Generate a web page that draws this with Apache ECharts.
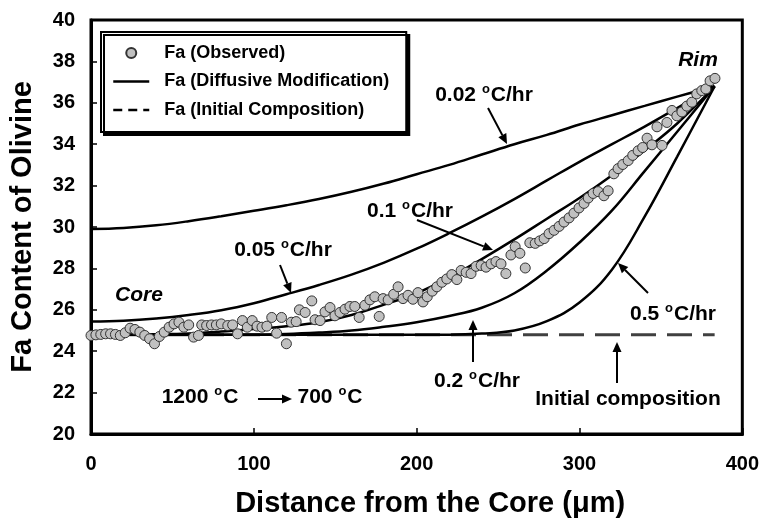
<!DOCTYPE html>
<html>
<head>
<meta charset="utf-8">
<script src="https://cdn.jsdelivr.net/npm/echarts@6/dist/echarts.min.js"></script>
<style>
  html, body { margin: 0; padding: 0; background: #fff; }
  #chart { width: 762px; height: 523px; }
</style>
</head>
<body>
<div id="chart"></div>
<script>
// observed Fa profile (distance from core in um, Fa content)
const obsX = [0, 3, 6, 9, 12, 15, 18, 21, 24, 27, 30, 33, 36, 39, 42, 45, 48, 51, 54, 57, 60, 63, 66, 68, 71, 74, 77, 80, 84, 87,
  90, 93, 96, 99, 102, 105, 108, 111, 114, 117, 120, 123, 126, 128,
  131.5, 135.6, 137.6, 140.7, 143.7, 146.8, 149.8, 152.9, 156, 159, 162, 164.7, 168.2, 171.3, 174.3, 177, 179.4, 182.5,
  185.9, 188.6, 191.6, 194.7, 197.7, 200.8, 203.9, 206.5, 209.6, 212.4, 215.5, 218.5, 221.6, 224.7, 227.3, 230.4,
  233.4, 236.5, 239.6, 242.6, 245.7, 248.7, 251.8, 254.8,
  257.9, 260.5, 263.4, 266.7, 269.5, 272.8, 275.6, 278.3, 281.3, 284.4, 287.5, 290.5, 293.6, 296.6, 299.7, 302.8,
  305.4, 308.4, 311.5, 315, 317.6, 321.1, 323.7, 326.6, 329.9, 332.7, 336, 338.8, 341.5, 344.5, 347.6, 350.7,
  353.7, 356.8, 359.8, 362.9, 365.9, 369, 372, 375.1, 377.6, 380.2, 383.2];
const obsY = [24.76, 24.79, 24.81, 24.84, 24.84, 24.81, 24.76, 24.89, 25.11, 25.05, 24.92, 24.76, 24.6, 24.36, 24.71, 24.92,
  25.16, 25.32, 25.4, 25.16, 25.27, 24.68, 24.76, 25.27, 25.24, 25.27, 25.27, 25.32, 25.24, 25.27,
  24.84, 25.48, 25.16, 25.48, 25.21, 25.16, 25.21, 25.63, 24.87, 25.63, 24.36, 25.4, 25.43, 26.0,
  25.87, 26.43, 25.52, 25.48, 25.9, 26.11, 25.71, 25.87, 26.03, 26.16, 26.16, 25.63, 26.22, 26.48, 26.63, 25.68, 26.54, 26.48,
  26.75, 27.11, 26.54, 26.7, 26.51, 26.83, 26.38, 26.63, 26.9, 27.11, 27.33, 27.49, 27.7, 27.46, 27.9, 27.81,
  27.75, 28.1, 28.14, 28.06, 28.22, 28.33, 28.22, 27.75,
  28.65, 29.05, 28.73, 28.02, 29.24, 29.21, 29.33, 29.44, 29.68, 29.84, 30.03, 30.24, 30.44, 30.67, 30.92, 31.14,
  31.4, 31.62, 31.71, 31.51, 31.75, 32.57, 32.82, 33.02, 33.21, 33.46, 33.68, 33.84, 34.29, 33.97, 34.84, 33.94,
  35.05, 35.63, 35.37, 35.56, 35.84, 36.03, 36.43, 36.59, 36.67, 37.06, 37.18];

// modelled profiles for each cooling rate
const modelX = [0, 20, 40, 60, 80, 100, 120, 140, 160, 180, 200, 220, 240, 260, 280, 300, 320, 340, 360, 383];
const rate002 = [29.9, 29.95, 30.08, 30.28, 30.52, 30.78, 31.05, 31.35, 31.7, 32.1, 32.55, 33.0, 33.5, 34.0, 34.45, 34.95, 35.4, 35.85, 36.3, 36.8];
const rate005 = [25.43, 25.47, 25.58, 25.75, 25.98, 26.32, 26.75, 27.2, 27.7, 28.28, 28.95, 29.7, 30.5, 31.35, 32.25, 33.15, 34.0, 34.85, 35.75, 36.8];
const rate01 = [24.8, 24.8, 24.82, 24.86, 24.95, 25.07, 25.2, 25.4, 25.75, 26.25, 26.8, 27.55, 28.45, 29.4, 30.4, 31.4, 32.5, 33.7, 35.0, 36.8];
const rate02 = [24.8, 24.8, 24.8, 24.8, 24.8, 24.8, 24.83, 24.9, 25.0, 25.18, 25.4, 25.7, 26.1, 26.8, 27.9, 29.25, 30.8, 32.7, 34.6, 36.8];
const rate05 = [24.8, 24.8, 24.8, 24.8, 24.8, 24.8, 24.8, 24.8, 24.8, 24.8, 24.8, 24.8, 24.85, 25.0, 25.45, 26.35, 27.95, 30.5, 33.4, 36.8];
const initX = [0, 383];
const initY = [24.8, 24.8];

const FONT = "'Liberation Sans', Arial, sans-serif";
const pairs = (xs, ys) => xs.map((x, i) => [x, ys[i]]);

const modelSeries = [rate002, rate005, rate01, rate02, rate05].map((ys) => ({
  name: "Fa (Diffusive Modification)",
  type: "line",
  data: pairs(modelX, ys),
  smooth: 0.4,
  symbol: "none",
  lineStyle: { color: "#000", width: 2.5 },
  itemStyle: { color: "#000" },
  z: 3,
}));

// annotation helpers (pixel positions)
const sup = { s: { fontSize: 13, fontWeight: "bold", fontFamily: FONT, padding: [0, 1, 12, 0] } };
const label = (x, y, text, italic) => ({
  type: "text",
  x: x,
  y: y,
  z: 20,
  style: {
    text: text,
    rich: sup,
    fontSize: 21,
    fontWeight: "bold",
    fontStyle: italic ? "italic" : "normal",
    fontFamily: FONT,
    fill: "#000",
    align: "center",
    verticalAlign: "middle",
  },
});
const arrow = (x1, y1, x2, y2) => {
  const a = Math.atan2(y2 - y1, x2 - x1);
  const L = 10, W = 4.5;
  const bx = x2 - L * Math.cos(a), by = y2 - L * Math.sin(a);
  return [
    { type: "line", z: 20, shape: { x1: x1, y1: y1, x2: bx, y2: by }, style: { stroke: "#000", lineWidth: 2 } },
    {
      type: "polygon", z: 20,
      shape: { points: [[x2, y2], [bx + W * Math.sin(a), by - W * Math.cos(a)], [bx - W * Math.sin(a), by + W * Math.cos(a)]] },
      style: { fill: "#000" },
    },
  ];
};

const chart = echarts.init(document.getElementById("chart"));
const option = {
  backgroundColor: "#fff",
  animation: false,
  grid: { left: 90, top: 20, right: 19, bottom: 83, show: true, borderColor: "#000", borderWidth: 3 },
  legend: {
    left: 101,
    top: 32,
    orient: "vertical",
    itemWidth: 36,
    itemHeight: 10,
    itemGap: 8.5,
    padding: [11, 17, 12, 11],
    backgroundColor: "#fff",
    borderColor: "#000",
    borderWidth: 2,
    shadowColor: "#000",
    shadowBlur: 0,
    shadowOffsetX: 3,
    shadowOffsetY: 3,
    textStyle: { fontSize: 18, fontWeight: "bold", fontFamily: FONT, color: "#000", lineHeight: 20, padding: [0, 0, 0, 10] },
    data: [
      { name: "Fa (Observed)", icon: "circle" },
      { name: "Fa (Diffusive Modification)", itemStyle: { opacity: 0 }, lineStyle: { width: 2.5, color: "#000" } },
      { name: "Fa (Initial Composition)", itemStyle: { opacity: 0 }, lineStyle: { type: [9, 6], width: 2.5, color: "#000" } },
    ],
  },
  xAxis: {
    type: "value",
    min: 0,
    max: 400,
    interval: 100,
    name: "Distance from the Core (μm)",
    nameLocation: "middle",
    nameGap: 55,
    nameTextStyle: { fontSize: 29, fontWeight: "bold", fontFamily: FONT, color: "#000", padding: [0, 0, 0, 27] },
    axisLine: { lineStyle: { color: "#000", width: 3 } },
    axisTick: { inside: true, length: 6, lineStyle: { color: "#000", width: 1.5 } },
    axisLabel: { fontSize: 20, fontWeight: "bold", fontFamily: FONT, color: "#000", margin: 20 },
    splitLine: { show: false },
  },
  yAxis: {
    type: "value",
    min: 20,
    max: 40,
    interval: 2,
    name: "Fa Content of Olivine",
    nameLocation: "middle",
    nameGap: 54,
    nameTextStyle: { fontSize: 29, fontWeight: "bold", fontFamily: FONT, color: "#000" },
    axisLine: { lineStyle: { color: "#000", width: 3 } },
    axisTick: { inside: true, length: 6, lineStyle: { color: "#000", width: 1.5 } },
    axisLabel: { fontSize: 20, fontWeight: "bold", fontFamily: FONT, color: "#000", margin: 16 },
    splitLine: { show: false },
  },
  series: [
    {
      name: "Fa (Initial Composition)",
      type: "line",
      data: pairs(initX, initY),
      symbol: "none",
      lineStyle: { color: "#404040", width: 3, type: [25, 11] },
      itemStyle: { color: "#404040" },
      z: 2,
    },
    ...modelSeries,
    {
      name: "Fa (Observed)",
      type: "scatter",
      data: pairs(obsX, obsY),
      symbolSize: 10,
      itemStyle: { color: "#c0c0c0", borderColor: "#333", borderWidth: 1, opacity: 1 },
      z: 5,
    },
  ],
  graphic: [
    label(484, 95, "0.02 {s|o}C/hr"),
    ...arrow(488, 108, 507, 144),
    label(283, 250, "0.05 {s|o}C/hr"),
    ...arrow(280, 265, 291, 293),
    label(410, 211, "0.1 {s|o}C/hr"),
    ...arrow(417, 220, 493, 250),
    label(673, 314, "0.5 {s|o}C/hr"),
    ...arrow(648, 293, 618, 263),
    label(477, 381, "0.2 {s|o}C/hr"),
    ...arrow(473, 362, 473, 320),
    label(628, 399, "Initial composition"),
    ...arrow(617, 383, 617, 342),
    label(139, 295, "Core", true),
    label(698, 60, "Rim", true),
    label(200, 397, "1200 {s|o}C"),
    ...arrow(258, 399, 292, 399),
    label(330, 397, "700 {s|o}C"),
  ],
};
chart.setOption(option);
window.onresize = function () {
  chart.resize();
};
</script>
</body>
</html>
